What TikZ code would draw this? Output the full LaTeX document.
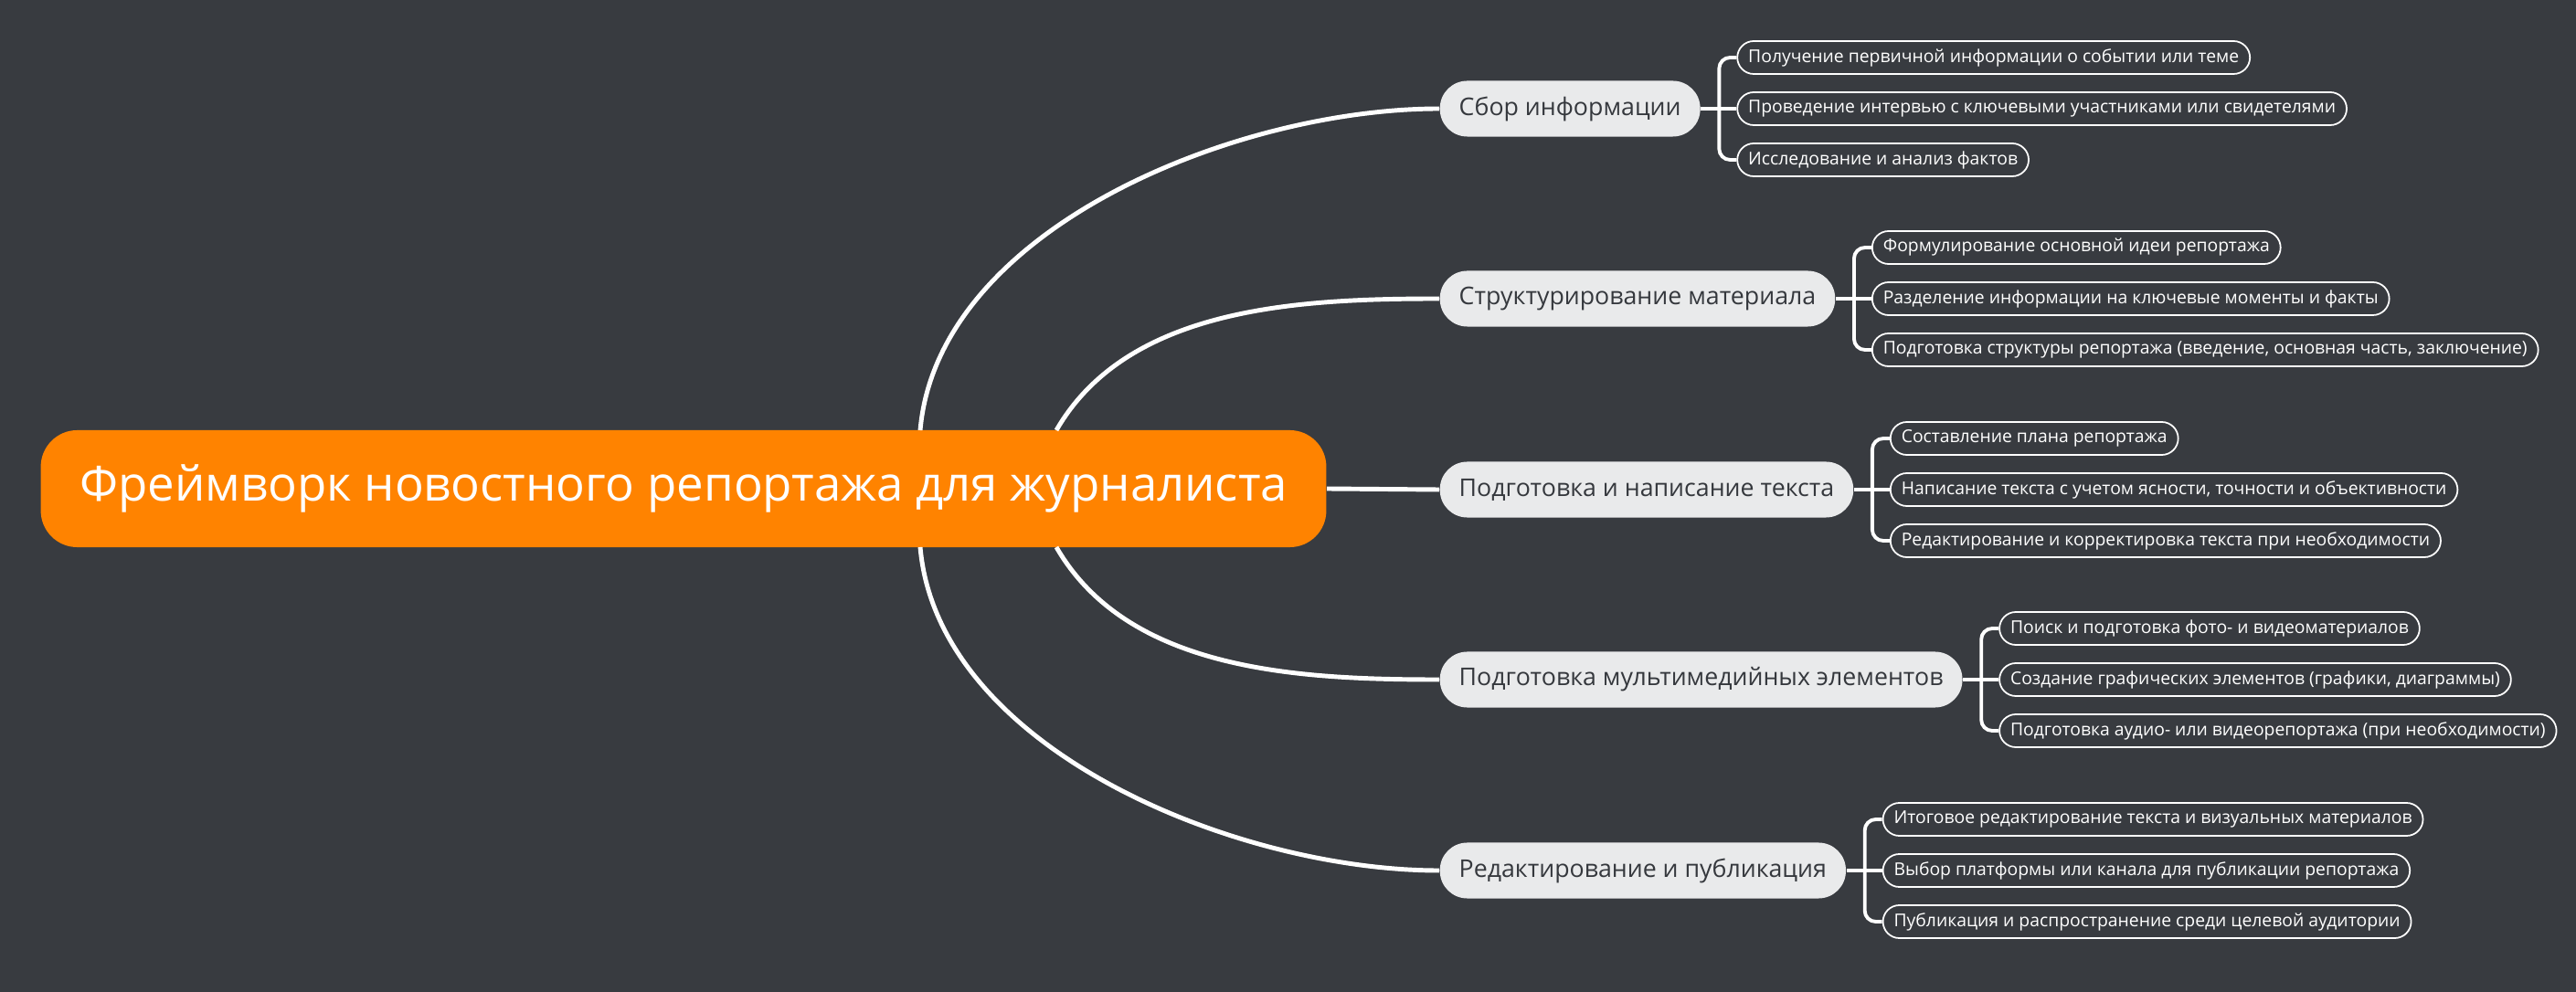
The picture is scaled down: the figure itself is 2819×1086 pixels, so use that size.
\documentclass[tikz,border=0pt]{standalone}
\usepackage{fontspec}
\setmainfont{Open Sans}
\usetikzlibrary{positioning, calc}

\definecolor{bgdark}{HTML}{383B40}
\definecolor{rootorange}{HTML}{FF8300}
\definecolor{branchgray}{HTML}{E9EAEB}
\definecolor{branchtext}{HTML}{35383D}

\begin{document}
\begin{tikzpicture}[
    x=0.01cm, y=-0.01cm,
    root/.style={fill=rootorange, rounded corners=0.4cm, minimum width=14.06cm,
        minimum height=1.28cm, text=white, font=\fontsize{15}{18}\selectfont},
    branch/.style={fill=branchgray, rounded corners=0.3cm, minimum height=0.61cm,
        inner xsep=0.21cm, text=branchtext, font=\fontsize{7.6}{10}\selectfont, anchor=west},
    leaf/.style={draw=white, fill=bgdark, rounded corners=0.18cm, minimum height=0.36cm,
        inner xsep=0.12cm, inner ysep=0pt, line width=0.5pt, text=white,
        font=\fontsize{5.5}{7}\selectfont, anchor=west},
    link/.style={draw=white, line width=1.4pt},
    twig/.style={draw=white, line width=1.1pt, rounded corners=0.12cm}
]
\useasboundingbox (0,0) rectangle (2819,1086);
\fill[bgdark] (0,0) rectangle (2819,1086);

% Root
\node[root] (root) at (748,535) {Фреймворк новостного репортажа для журналиста};

% Branches
\node[branch] (b1) at (1575,119) {Сбор информации};
\node[branch] (b2) at (1575,327) {Структурирование материала};
\node[branch] (b3) at (1575,536) {Подготовка и написание текста};
\node[branch] (b4) at (1575,744) {Подготовка мультимедийных элементов};
\node[branch] (b5) at (1575,953) {Редактирование и публикация};

% Root to branches
\coordinate (t1) at (1007,471);
\coordinate (t2) at (1156,471);
\coordinate (t4) at (1156,599);
\coordinate (t5) at (1007,599);
\path[link] (t1) to[out=85, in=180, looseness=0.85] (b1.west);
\path[link] (t2) to[out=60, in=180, looseness=0.9] (b2.west);
\path[link] (root.east) -- (b3.west);
\path[link] (t4) to[out=-60, in=180, looseness=0.9] (b4.west);
\path[link] (t5) to[out=-85, in=180, looseness=0.85] (b5.west);

% Leaves
\foreach \b/\la/\lb/\lc in {
    1/Получение первичной информации о событии или теме/Проведение интервью с ключевыми участниками или свидетелями/Исследование и анализ фактов,
    2/Формулирование основной идеи репортажа/Разделение информации на ключевые моменты и факты/{Подготовка структуры репортажа (введение, основная часть, заключение)},
    3/Составление плана репортажа/{Написание текста с учетом ясности, точности и объективности}/Редактирование и корректировка текста при необходимости,
    4/Поиск и подготовка фото- и видеоматериалов/{Создание графических элементов (графики, диаграммы)}/Подготовка аудио- или видеорепортажа (при необходимости),
    5/Итоговое редактирование текста и визуальных материалов/Выбор платформы или канала для публикации репортажа/Публикация и распространение среди целевой аудитории}{
  \path[twig] (b\b.east) -- ++(20,0) coordinate (j\b);
  \node[leaf] (l\b a) at ($(b\b.east)+(39,-56)$) {\la};
  \node[leaf] (l\b b) at ($(b\b.east)+(39,0)$) {\lb};
  \node[leaf] (l\b c) at ($(b\b.east)+(39,56)$) {\lc};
  \path[twig] (j\b) |- (l\b a.west);
  \path[twig] (j\b) -- (l\b b.west);
  \path[twig] (j\b) |- (l\b c.west);
}
\end{tikzpicture}
\end{document}
